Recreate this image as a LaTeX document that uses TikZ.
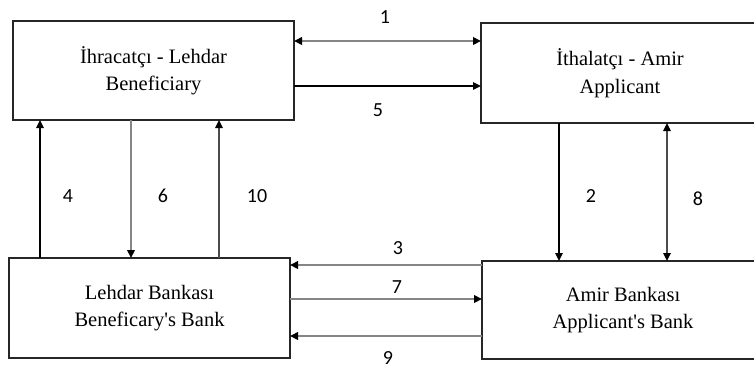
\documentclass[tikz,border=0pt]{standalone}
\usepackage{fontspec}
\setmainfont{Liberation Serif}
\newfontfamily\numfont{Carlito}
\usetikzlibrary{arrows.meta}

\tikzset{
  party/.style={draw=black!85, line width=1.4pt, fill=white, align=center,
    inner sep=0pt, outer sep=0pt,
    font=\fontsize{20.5}{27.5}\selectfont},
  tip/.style={-{Triangle[length=8pt,width=7.5pt,color=black]}},
  bothtips/.style={{Triangle[length=8pt,width=7.5pt,color=black]}-{Triangle[length=8pt,width=7.5pt,color=black]}},
  darkflow/.style={line width=1.4pt, draw=black},
  midflow/.style={line width=1.6pt, draw=black!70},
  lightflow/.style={line width=2.2pt, draw=black!48},
  stepno/.style={font=\numfont\fontsize{20}{22}\selectfont, inner sep=0pt}
}

\begin{document}
\begin{tikzpicture}[x=1pt,y=-1pt]
  \useasboundingbox (0,0) rectangle (754,368);
  \clip (0,0) rectangle (754,368);

  % the four parties
  \node[party, minimum width=281pt, minimum height=99pt] (ben) at (153.5,70.5)
    {İhracatçı - Lehdar\\Beneficiary};
  \node[party, minimum width=278pt, minimum height=100pt] (app) at (620,73)
    {İthalatçı - Amir\\Applicant};
  \node[party, minimum width=281pt, minimum height=100pt] (bbank) at (149.5,308)
    {Lehdar Bankası\\Beneficary\textquotesingle s Bank};
  \node[party, minimum width=282pt, minimum height=98pt] (abank) at (623,310)
    {Amir Bankası\\Applicant\textquotesingle s Bank};

  % column and row positions of the connectors
  \coordinate (c4) at (40,0);
  \coordinate (c6) at (131,0);
  \coordinate (c10) at (219,0);
  \coordinate (c2) at (559,0);
  \coordinate (c8) at (667,0);
  \coordinate (r1) at (0,41);
  \coordinate (r5) at (0,86);
  \coordinate (r3) at (0,265);
  \coordinate (r7) at (0,299);
  \coordinate (r9) at (0,336);

  % horizontal flows
  \draw[lightflow, bothtips] (ben.east |- r1) -- (app.west |- r1);
  \draw[darkflow, tip] (ben.east |- r5) -- (app.west |- r5);
  \draw[lightflow, tip] (abank.west |- r3) -- (bbank.east |- r3);
  \draw[lightflow, tip] (bbank.east |- r7) -- (abank.west |- r7);
  \draw[lightflow, tip] (abank.west |- r9) -- (bbank.east |- r9);

  % vertical flows
  \draw[darkflow, tip] (bbank.north -| c4) -- (ben.south -| c4);
  \draw[lightflow, tip] (ben.south -| c6) -- (bbank.north -| c6);
  \draw[midflow, tip] (bbank.north -| c10) -- (ben.south -| c10);
  \draw[darkflow, tip] (app.south -| c2) -- (abank.north -| c2);
  \draw[midflow, bothtips] (app.south -| c8) -- (abank.north -| c8);

  % step numbers
  \node[stepno] (n1) at (385,17) {1};
  \node[stepno] (n5) at (378,110) {5};
  \node[stepno] (n4) at (68,196) {4};
  \node[stepno] (n6) at (163,196) {6};
  \node[stepno] (n10) at (257,196) {10};
  \node[stepno] (n2) at (591,196) {2};
  \node[stepno] (n8) at (698,199) {8};
  \node[stepno] (n3) at (398,248) {3};
  \node[stepno] (n7) at (397,287) {7};
  \node[stepno] (n9) at (388,358) {9};
\end{tikzpicture}
\end{document}
